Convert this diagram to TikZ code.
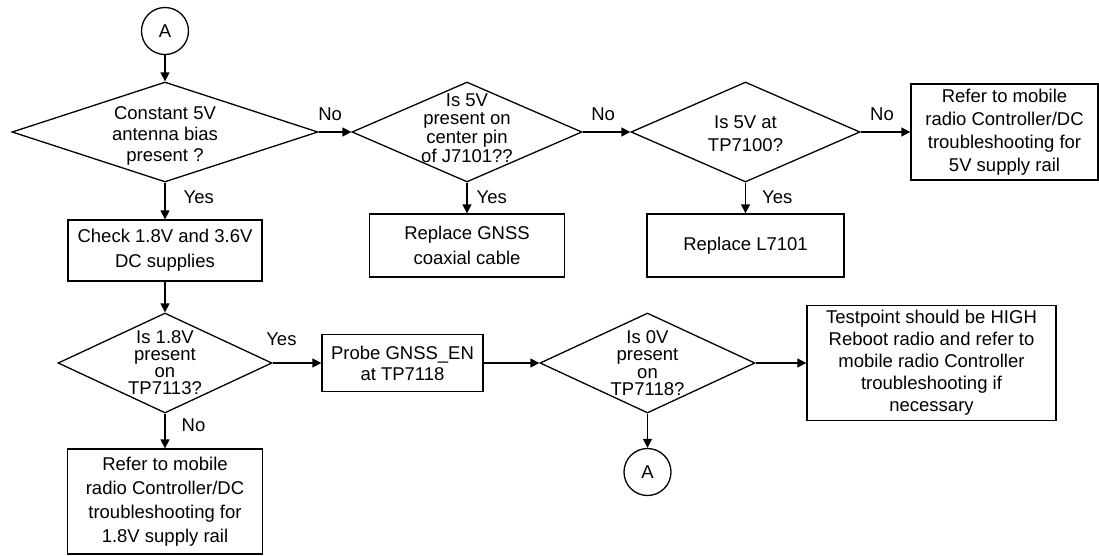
\documentclass[tikz,border=0pt]{standalone}
\usepackage{fontspec}
\setmainfont{Liberation Sans}
\usepackage{tikz}
\usetikzlibrary{arrows.meta,shapes.geometric}

\begin{document}
\begin{tikzpicture}[x=1pt,y=-1pt,line width=1.3pt,
  font=\fontsize{18.5}{23}\selectfont,
  flow/.style={-{Triangle[length=9pt,width=9pt]}},
  box/.style={draw,rectangle,inner sep=0pt,align=center},
  decision/.style={draw,diamond,inner sep=0pt,minimum height=100pt},
  dtext/.style={inner sep=0pt,align=center},
  conn/.style={draw,circle,inner sep=0pt,minimum size=47pt},
  ans/.style={inner sep=0pt}]
  \useasboundingbox (0,0) rectangle (1099,555);
  % Entry connector
  \node[conn] (inA) at (165,31) {A};
  % First row: 5V antenna bias checks
  \node[decision,minimum width=306pt] (bias) at (165,132) {};
  \node[dtext,font=\fontsize{18.5}{21}\selectfont] (bias-t) at (165,136) {Constant 5V\\antenna bias\\present ?};
  \node[decision,minimum width=230pt] (pin) at (467,132) {};
  \node[dtext,font=\fontsize{18.5}{18.7}\selectfont] (pin-t) at (467,128) {Is 5V\\present on\\center pin\\of J7101??};
  \node[decision,minimum width=229pt] (tp100) at (745.5,132) {};
  \node[dtext] (tp100-t) at (745.5,133.5) {Is 5V at\\TP7100?};
  \node[box,minimum width=187pt,minimum height=96pt] (rail5) at (1004.5,132) {Refer to mobile\\radio Controller/DC\\troubleshooting for\\5V supply rail};
  % Second row: actions
  \node[box,minimum width=194pt,minimum height=61pt,font=\fontsize{18.5}{25}\selectfont] (check) at (165,250.5) {Check 1.8V and 3.6V\\DC supplies};
  \node[box,minimum width=195pt,minimum height=63pt,font=\fontsize{18.5}{25}\selectfont] (cable) at (467,245.5) {Replace GNSS\\coaxial cable};
  \node[box,minimum width=197pt,minimum height=63pt] (coil) at (745.5,245.5) {Replace L7101};
  % Third row: 1.8V and GNSS_EN checks
  \node[decision,minimum width=214pt] (tp113) at (165,363) {};
  \node[dtext,font=\fontsize{18.5}{17}\selectfont] (tp113-t) at (165,363) {Is 1.8V\\present\\on\\TP7113?};
  \node[box,minimum width=161pt,minimum height=57pt,font=\fontsize{18.5}{21}\selectfont] (probe) at (402.5,363) {Probe GNSS\_EN\\at TP7118};
  \node[decision,minimum width=215pt] (tp118) at (647.5,363) {};
  \node[dtext,font=\fontsize{18.5}{17.3}\selectfont] (tp118-t) at (647.5,363) {Is 0V\\present\\on\\TP7118?};
  \node[box,minimum width=249pt,minimum height=115pt,font=\fontsize{18.5}{22}\selectfont] (high) at (931.5,363) {Testpoint should be HIGH\\Reboot radio and refer to\\mobile radio Controller\\troubleshooting if\\necessary};
  % Bottom row
  \node[box,minimum width=195pt,minimum height=105pt,font=\fontsize{18.5}{24}\selectfont] (rail18) at (165,501.5) {Refer to mobile\\radio Controller/DC\\troubleshooting for\\1.8V supply rail};
  \node[conn] (outA) at (647.5,472) {A};
  % Connectors
  \draw[flow] (inA) -- (bias);
  \draw[flow] (bias) -- node[ans,above=10.5pt,pos=0.35]{No} (pin);
  \draw[flow] (pin) -- node[ans,above=10.5pt,pos=0.43]{No} (tp100);
  \draw[flow] (tp100) -- node[ans,above=10.5pt,pos=0.43]{No} (rail5);
  \draw[flow] (bias) -- node[ans,right=18pt,pos=0.4]{Yes} (check);
  \draw[flow] (pin) -- node[ans,right=9pt,pos=0.47]{Yes} (cable);
  \draw[flow] (tp100) -- node[ans,right=16pt,pos=0.47]{Yes} (coil);
  \draw[flow] (check) -- (tp113);
  \draw[flow] (tp113) -- node[ans,above=16.5pt,pos=0.18]{Yes} (probe);
  \draw[flow] (tp113) -- node[ans,right=16pt,pos=0.33]{No} (rail18);
  \draw[flow] (probe) -- (tp118);
  \draw[flow] (tp118) -- (high);
  \draw[flow] (tp118) -- (outA);
\end{tikzpicture}
\end{document}
